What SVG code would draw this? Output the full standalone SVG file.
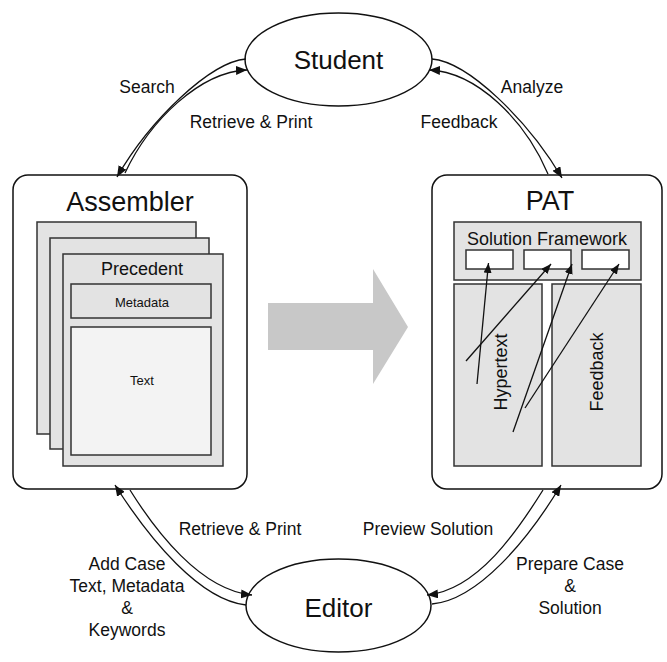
<svg xmlns="http://www.w3.org/2000/svg" width="667" height="662" viewBox="0 0 667 662">
<style>
text{font-family:"Liberation Sans",Arial,sans-serif;fill:#111;text-anchor:middle}
.big{font-size:27px}
.lbl{font-size:17.5px}
.mid{font-size:18px}
.sm{font-size:13px}
.frame{fill:#fff;stroke:#111;stroke-width:1.5}
.page{fill:#e3e3e3;stroke:#333;stroke-width:1.5}
.light{fill:#f3f3f3;stroke:#333;stroke-width:1.5}
.white{fill:#fff;stroke:#333;stroke-width:1.5}
.con{fill:none;stroke:#111;stroke-width:1.3}
</style>
<defs>
<marker id="ah" markerWidth="11" markerHeight="9" refX="11" refY="4.5" orient="auto" markerUnits="userSpaceOnUse"><path d="M0,0 L11,4.5 L0,9 z" fill="#111"/></marker>
<marker id="ahs" markerWidth="10" markerHeight="8" refX="10" refY="4" orient="auto" markerUnits="userSpaceOnUse"><path d="M0,0 L10,4 L0,8 z" fill="#111"/></marker>
</defs>
<rect width="667" height="662" fill="#fff"/>

<g id="student">
<ellipse cx="338.5" cy="59.5" rx="93.5" ry="46.5" class="frame"/>
<text x="338.5" y="69" class="big" style="font-size:26px">Student</text>
</g>

<g id="editor">
<ellipse cx="338.5" cy="605.5" rx="92.5" ry="46.5" class="frame"/>
<text x="338.5" y="617" class="big" style="font-size:26px">Editor</text>
</g>

<g id="assembler">
<rect x="13" y="175" width="234" height="314" rx="15" class="frame"/>
<text x="130" y="211" class="big">Assembler</text>
<rect x="37" y="222" width="159" height="212" class="page"/>
<rect x="50" y="238" width="159" height="211" class="page"/>
<rect x="63" y="254" width="160" height="212" class="page"/>
<text x="142" y="275" class="mid">Precedent</text>
<rect x="71" y="284" width="140" height="34" class="page"/>
<text x="142" y="307" class="sm">Metadata</text>
<rect x="71" y="327" width="140" height="128" class="light"/>
<text x="142" y="385" class="sm">Text</text>
</g>

<g id="pat">
<rect x="432" y="175" width="230" height="314" rx="15" class="frame"/>
<text x="550" y="210" class="big">PAT</text>
<rect x="454" y="222" width="187" height="58" class="page"/>
<text x="547" y="245" class="mid">Solution Framework</text>
<rect x="466" y="250" width="47" height="19" class="white"/>
<rect x="524" y="250" width="47" height="19" class="white"/>
<rect x="582" y="250" width="47" height="19" class="white"/>
<rect x="454" y="284" width="88" height="182" class="page"/>
<rect x="552" y="284" width="89" height="182" class="page"/>
<text x="0" y="0" class="mid" transform="translate(507,372) rotate(-90)">Hypertext</text>
<text x="0" y="0" class="mid" transform="translate(603,372) rotate(-90)">Feedback</text>
<g class="links">
<line x1="477" y1="384" x2="488.5" y2="263" class="con" marker-end="url(#ahs)"/>
<line x1="466" y1="361" x2="551" y2="264" class="con" marker-end="url(#ahs)"/>
<line x1="513" y1="432" x2="572" y2="264" class="con" marker-end="url(#ahs)"/>
<line x1="525" y1="408" x2="619" y2="264" class="con" marker-end="url(#ahs)"/>
</g>
</g>

<g id="transfer-arrow">
<polygon points="268,303 373,303 373,269 408,327 373,384 373,350 268,350" fill="#c8c8c8"/>
</g>

<g id="connectors">
<path d="M246,59 C210,62 150,120 117,177" class="con" marker-end="url(#ah)"/>
<path d="M125,173 C150,120 200,72 247,70" class="con" marker-end="url(#ah)"/>
<path d="M432,59 C468,62 528,120 562,178" class="con" marker-end="url(#ah)"/>
<path d="M548,174 C525,120 477,72 429,70" class="con" marker-end="url(#ah)"/>
<path d="M246,605 C200,600 150,540 115,485" class="con" marker-end="url(#ah)"/>
<path d="M130,490 C155,530 200,590 252,595" class="con" marker-end="url(#ah)"/>
<path d="M432,604 C478,600 528,540 561,485" class="con" marker-end="url(#ah)"/>
<path d="M543,490 C518,530 478,590 427,595" class="con" marker-end="url(#ah)"/>
</g>

<g id="labels" class="lbl">
<text x="147" y="93" class="lbl">Search</text>
<text x="251" y="128" class="lbl">Retrieve &amp; Print</text>
<text x="532" y="93" class="lbl">Analyze</text>
<text x="459" y="128" class="lbl">Feedback</text>
<text x="240" y="535" class="lbl">Retrieve &amp; Print</text>
<text x="127" y="570" class="lbl">Add Case</text>
<text x="127" y="592" class="lbl">Text, Metadata</text>
<text x="127" y="614" class="lbl">&amp;</text>
<text x="127" y="636" class="lbl">Keywords</text>
<text x="428" y="535" class="lbl">Preview Solution</text>
<text x="570" y="570" class="lbl">Prepare Case</text>
<text x="570" y="592" class="lbl">&amp;</text>
<text x="570" y="614" class="lbl">Solution</text>
</g>
</svg>
